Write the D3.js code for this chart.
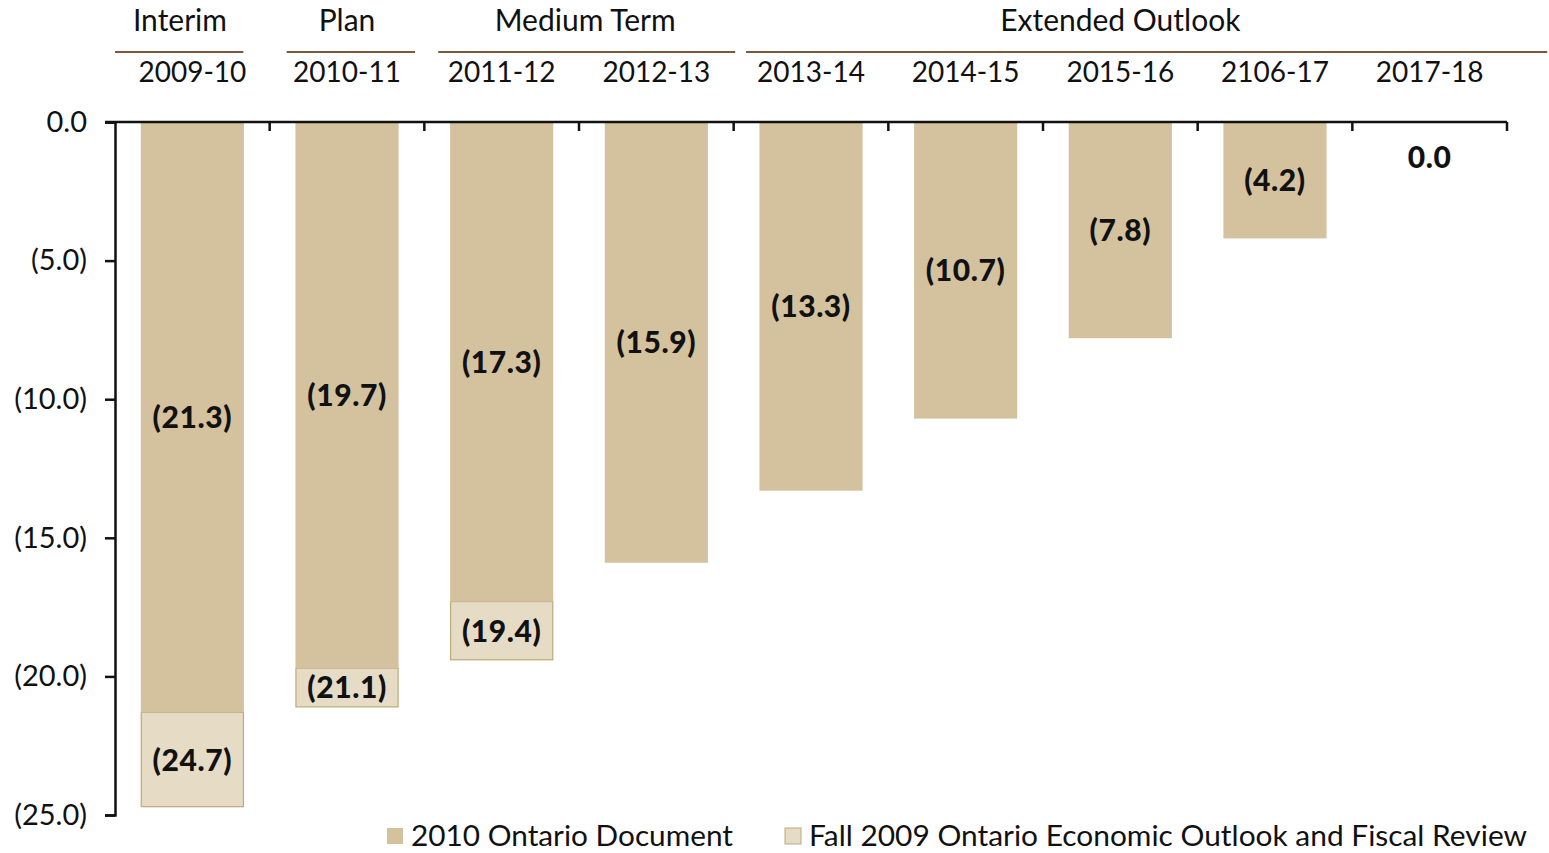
<!DOCTYPE html>
<html>
<head>
<meta charset="utf-8">
<script src="https://cdn.jsdelivr.net/npm/d3@7"></script>
<style>
  body { margin: 0; background: #fff; }
  text { font-family: Lato, "Open Sans", sans-serif; fill: #111; }
</style>
</head>
<body>
<div id="chart"></div>
<script>
// fiscal years along the top axis
const years = ["2009-10", "2010-11", "2011-12", "2012-13", "2013-14", "2014-15", "2015-16", "2106-17", "2017-18"];
// 2010 Ontario Document (deficit, $ billions)
const budget2010 = [-21.3, -19.7, -17.3, -15.9, -13.3, -10.7, -7.8, -4.2, 0.0];
// Fall 2009 Ontario Economic Outlook and Fiscal Review (only first three years)
const fall2009 = [-24.7, -21.1, -19.4];
const yTicks = [0, -5, -10, -15, -20, -25];
// period headers: label, span in category units, where the label sits
const groupLabels = ["Interim", "Plan", "Medium Term", "Extended Outlook"];
const groupFrom = [0, 1.11, 2.09, 4.08];
const groupTo = [0.83, 1.94, 4.01, 9.26];
const groupLabelAt = [0.42, 1.5, 3.04, 6.5];
const legendLabels = ["2010 Ontario Document", "Fall 2009 Ontario Economic Outlook and Fiscal Review"];

const width = 1549, height = 853;
const margin = {top: 122, right: 42, bottom: 38, left: 115};
const dark = "#d4c29e", light = "#e6dcc5", lightStroke = "#bca97c", rule = "#7b5a3c";

const svg = d3.select("#chart").append("svg")
  .attr("width", width)
  .attr("height", height);

const x = d3.scaleBand()
  .domain(years)
  .range([margin.left, width - margin.right])
  .paddingInner(0.333)
  .paddingOuter(0.1667);

const y = d3.scaleLinear()
  .domain([0, -25])
  .range([margin.top, height - margin.bottom]);

// category position in "index units" for the header rules
const xi = d3.scaleLinear()
  .domain([0, years.length])
  .range([margin.left, width - margin.right]);

const fmt = v => v === 0 ? "0.0" : `(${Math.abs(v).toFixed(1)})`;

// light bars (only the part past the 2010 value shows)
svg.selectAll("rect.fall")
  .data(fall2009)
  .join("rect")
  .attr("class", "fall")
  .attr("x", (d, i) => x(years[i]) + 0.5)
  .attr("y", (d, i) => y(budget2010[i]))
  .attr("width", x.bandwidth() - 1)
  .attr("height", (d, i) => y(d) - y(budget2010[i]))
  .attr("fill", light)
  .attr("stroke", lightStroke)
  .attr("stroke-width", 1.2);

// dark bars
svg.selectAll("rect.budget")
  .data(budget2010)
  .join("rect")
  .attr("class", "budget")
  .attr("x", (d, i) => x(years[i]))
  .attr("y", y(0))
  .attr("width", x.bandwidth())
  .attr("height", d => y(d) - y(0))
  .attr("fill", dark);

// value labels
svg.selectAll("text.bv")
  .data(budget2010)
  .join("text")
  .attr("class", "bv")
  .attr("x", (d, i) => x(years[i]) + x.bandwidth() / 2)
  .attr("y", d => d === 0 ? y(0) + 46 : y(d / 2) + 11)
  .attr("text-anchor", "middle")
  .attr("font-size", 30)
  .attr("font-weight", 900)
  .attr("letter-spacing", 0.6)
  .text(fmt);

svg.selectAll("text.fv")
  .data(fall2009)
  .join("text")
  .attr("class", "fv")
  .attr("x", (d, i) => x(years[i]) + x.bandwidth() / 2)
  .attr("y", (d, i) => y((d + budget2010[i]) / 2) + 11)
  .attr("text-anchor", "middle")
  .attr("font-size", 30)
  .attr("font-weight", 900)
  .attr("letter-spacing", 0.6)
  .text(fmt);

// left axis
const yAxis = svg.append("g")
  .attr("transform", `translate(${margin.left},0)`)
  .call(d3.axisLeft(y).tickValues(yTicks).tickSize(10).tickPadding(18).tickFormat(fmt));
yAxis.select(".domain").attr("stroke", "#111").attr("stroke-width", 2.5);
yAxis.selectAll(".tick line").attr("stroke", "#111").attr("stroke-width", 2.5);
yAxis.selectAll(".tick text").attr("font-size", 29).attr("font-family", "Lato, sans-serif").attr("fill", "#111");

// top axis line with boundary ticks
svg.append("line")
  .attr("x1", margin.left - 10).attr("x2", width - margin.right)
  .attr("y1", y(0)).attr("y2", y(0))
  .attr("stroke", "#111").attr("stroke-width", 2.5);
svg.selectAll("line.bt")
  .data(d3.range(1, years.length + 1))
  .join("line")
  .attr("class", "bt")
  .attr("x1", d => xi(d)).attr("x2", d => xi(d))
  .attr("y1", y(0)).attr("y2", y(0) + 9)
  .attr("stroke", "#111").attr("stroke-width", 2.5);

// year labels above the axis
svg.selectAll("text.yr")
  .data(years)
  .join("text")
  .attr("class", "yr")
  .attr("x", d => x(d) + x.bandwidth() / 2)
  .attr("y", 82)
  .attr("text-anchor", "middle")
  .attr("font-size", 28)
  .text(d => d);

// period headers and their rules
svg.selectAll("line.grp")
  .data(groupLabels)
  .join("line")
  .attr("class", "grp")
  .attr("x1", (d, i) => xi(groupFrom[i]))
  .attr("x2", (d, i) => xi(groupTo[i]))
  .attr("y1", 52).attr("y2", 52)
  .attr("stroke", rule).attr("stroke-width", 2);

svg.selectAll("text.grp")
  .data(groupLabels)
  .join("text")
  .attr("class", "grp")
  .attr("x", (d, i) => xi(groupLabelAt[i]))
  .attr("y", 31)
  .attr("text-anchor", "middle")
  .attr("font-size", 30)
  .text(d => d);

// legend
const legendX = [387, 785];
const leg = svg.selectAll("g.leg")
  .data(legendLabels)
  .join("g")
  .attr("class", "leg")
  .attr("transform", (d, i) => `translate(${legendX[i]},828)`);
leg.append("rect")
  .attr("width", 16).attr("height", 16)
  .attr("fill", (d, i) => i === 0 ? dark : light)
  .attr("stroke", (d, i) => i === 0 ? "none" : lightStroke);
leg.append("text")
  .attr("x", 24).attr("y", 18)
  .attr("font-size", 29)
  .attr("textLength", (d, i) => i === 0 ? 322 : 718)
  .attr("lengthAdjust", "spacingAndGlyphs")
  .text(d => d);
</script>
</body>
</html>
